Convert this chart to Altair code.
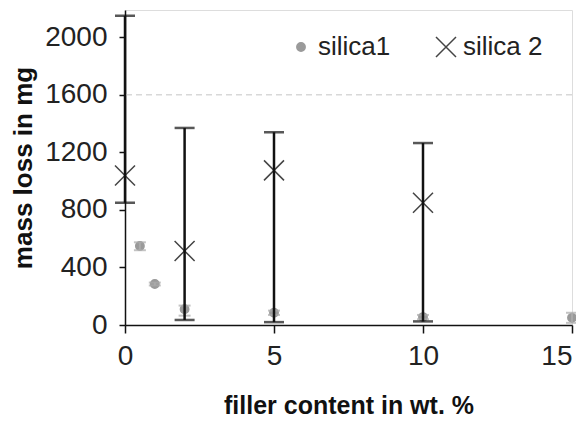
import altair as alt
import pandas as pd

# silica 1 (grey dots, small error bars)
s1_x = [0.5, 1, 2, 5, 10, 15]
s1_y = [550, 285, 110, 85, 55, 50]
s1_lo = [520, 275, 65, 70, 40, 15]
s1_hi = [575, 295, 135, 100, 70, 85]

# silica 2 (crosses, large error bars)
s2_x = [0, 2, 5, 10]
s2_y = [1040, 515, 1075, 850]
s2_lo = [850, 35, 20, 25]
s2_hi = [2150, 1370, 1340, 1265]

series_names = ["silica1", "silica 2"]
y_ticks = [0, 400, 800, 1200, 1600, 2000]
x_ticks = [0, 5, 10, 15]
grid_y = [1600]

rows = []
for x, y, lo, hi in zip(s1_x, s1_y, s1_lo, s1_hi):
    rows.append(dict(x=x, y=y, lo=lo, hi=hi, series="silica1"))
for x, y, lo, hi in zip(s2_x, s2_y, s2_lo, s2_hi):
    rows.append(dict(x=x, y=y, lo=lo, hi=hi, series="silica 2"))
df = pd.DataFrame(rows)
s1 = df[df.series == "silica1"]
s2 = df[df.series == "silica 2"]

NARROW = "Liberation Sans Narrow, Arial Narrow, Liberation Sans"
FONT = "Liberation Sans"
xs = alt.Scale(domain=[0, 15], nice=False)
ys = alt.Scale(domain=[0, 2190], nice=False)

axX = alt.Axis(values=x_ticks, title="filler content in wt. %", format="d",
               grid=False, tickSize=8, labelPadding=9, labelFontSize=28, labelFont=NARROW,
               labelAlign={"condition": {"test": "datum.value >= 15", "value": "right"}, "value": "center"},
               labelColor="#222", titleFont=FONT, titleFontSize=25, titleFontWeight="bold",
               titleColor="#111", titlePadding=23, domainColor="#111", tickColor="#111",
               domainWidth=1.5, tickWidth=1.5, labelFlush=False)
axY = alt.Axis(values=y_ticks, title="mass loss in mg", format="d",
               grid=False, tickSize=6, labelPadding=12, labelFontSize=28, labelFont=NARROW,
               labelColor="#222", titleFont=FONT, titleFontSize=26, titleFontWeight="bold",
               titleColor="#111", titlePadding=8, domainColor="#111", tickColor="#111",
               domainWidth=1.5, tickWidth=1.5)


def X(f="x"):
    return alt.X(f"{f}:Q", scale=xs, axis=axX)


def Y(f):
    return alt.Y(f"{f}:Q", scale=ys, axis=axY)


gdf = pd.DataFrame({"y": grid_y})
grid = alt.Chart(gdf).mark_rule(color="#d8d8d8", strokeDash=[6, 4], strokeWidth=1.5).encode(
    y=Y("y"))

# silica 2 error bars
e2 = alt.Chart(s2).mark_rule(color="#111", strokeWidth=2.5).encode(x=X(), y=Y("lo"), y2="hi:Q")
c2lo = alt.Chart(s2).mark_tick(color="#111", thickness=2.5, size=20, orient="horizontal").encode(
    x=X(), y=Y("lo"))
c2hi = alt.Chart(s2).mark_tick(color="#111", thickness=2.5, size=20, orient="horizontal").encode(
    x=X(), y=Y("hi"))

# silica 1 error bars
e1 = alt.Chart(s1).mark_rule(color="#aaaaaa", strokeWidth=2).encode(x=X(), y=Y("lo"), y2="hi:Q")
c1lo = alt.Chart(s1).mark_tick(color="#aaaaaa", thickness=2, size=12, orient="horizontal").encode(
    x=X(), y=Y("lo"))
c1hi = alt.Chart(s1).mark_tick(color="#aaaaaa", thickness=2, size=12, orient="horizontal").encode(
    x=X(), y=Y("hi"))

XPATH = "M-1,-1L1,1M-1,1L1,-1"
legend = alt.Legend(title=None, orient="none", legendX=163, legendY=24, direction="horizontal",
                    labelFont=NARROW, labelFontSize=26, labelColor="#222", columnPadding=42,
                    symbolStrokeWidth=1.5, labelOffset=4, padding=0)
pts = alt.Chart(df).mark_point(strokeWidth=1.5, opacity=1).encode(
    x=X(), y=Y("y"),
    shape=alt.Shape("series:N", scale=alt.Scale(domain=series_names, range=["circle", XPATH]), legend=legend),
    stroke=alt.Stroke("series:N", scale=alt.Scale(domain=series_names, range=["#9a9a9a", "#444444"]), legend=legend),
    fill=alt.Fill("series:N", scale=alt.Scale(domain=series_names, range=["#9a9a9a", "transparent"]), legend=legend),
    size=alt.Size("series:N", scale=alt.Scale(domain=series_names, range=[70, 400]), legend=legend),
)

chart = alt.layer(pts, grid, e1, c1lo, c1hi, e2, c2lo, c2hi).properties(
    width=447, height=315,
    autosize=alt.AutoSizeParams(type="none"),
    padding={"left": 117, "top": 2, "right": 4, "bottom": 92},
).configure_view(stroke="#999999", strokeWidth=1).configure(background="white")

chart.save("out.html", embed_options={"renderer": "svg", "actions": False})
